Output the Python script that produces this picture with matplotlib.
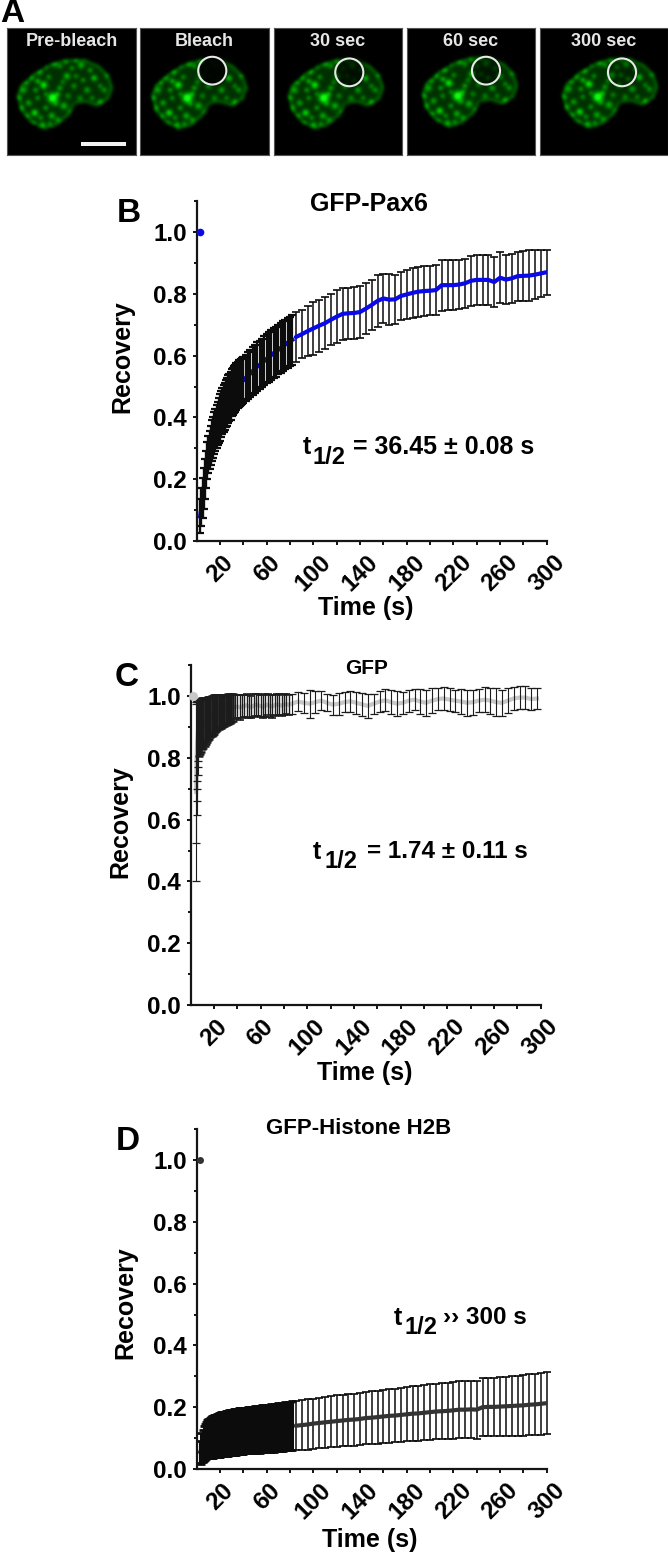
import numpy as np
import matplotlib
matplotlib.use("Agg")
import matplotlib.pyplot as plt
from matplotlib.path import Path
from matplotlib.patches import Circle, Rectangle
from matplotlib.transforms import ScaledTranslation

plt.rcParams['font.family'] = ['Liberation Sans', 'DejaVu Sans']
plt.rcParams['font.weight'] = 'bold'

W, H = 668, 1553

# ---- panel A micrographs ----
frame_labels = ["Pre-bleach", "Bleach", "30 sec", "60 sec", "300 sec"]
frame_left = [7.3, 140, 273.5, 406.7, 539.5]
frame_shift = [(0, 0), (1.5, 0), (4, 0), (5, -2), (12, -1)]
circle_x = [None, 212, 349, 485.7, 621.7]
circle_y = [None, 71, 72.7, 71, 72.7]
circle_dim = [1, 0.08, 0.3, 0.45, 0.72]
nucleus_outline = [(8.7, 68), (12.7, 56.7), (26, 45), (42.7, 35), (59.3, 30), (76, 30), (91, 36.7),
                   (101, 46.7), (105.3, 60), (101, 71.7), (89.3, 79), (76, 75), (67.7, 76.7),
                   (61, 88.3), (49.3, 98.3), (36, 102.3), (22.7, 95), (12.7, 83.3)]
# x, y, brightness, width of the bright foci
nucleus_foci = [(45, 70, 1.0, 3.2), (36, 57, .75, 2.4), (30, 53, .5, 1.8), (27, 85, .7, 2.2), (59, 48, .55, 2.2),
                (86, 50, .6, 2), (73, 37, .5, 2.2), (16, 62, .45, 2.2), (44, 88, .5, 2.2), (79, 62, .45, 2),
                (56, 78, .5, 2.4), (21, 75, .45, 2), (32, 44, .45, 1.8), (52, 60, .45, 1.8), (66, 58, .4, 1.8),
                (96, 62, .4, 1.8), (47, 36, .4, 1.8), (60, 68, .35, 1.8), (14, 80, .4, 1.8), (35, 97, .5, 1.8),
                (72, 70, .35, 1.8), (92, 74, .45, 1.8), (50, 92, .4, 1.8), (28, 62, .45, 1.6), (41, 49, .4, 1.6),
                (30, 70, .4, 1.6), (52, 38, .4, 1.6), (64, 40, .4, 1.6), (82, 42, .45, 1.6), (38, 80, .45, 1.6),
                (24, 50, .4, 1.6), (68, 48, .35, 1.6), (55, 54, .35, 1.6), (20, 88, .35, 1.6), (12, 70, .4, 1.6),
                (19, 55, .35, 1.6), (38, 66, .35, 1.4), (50, 66, .45, 1.6), (48, 76, .4, 1.6), (62, 84, .3, 1.4),
                (33, 90, .4, 1.6), (42, 96, .35, 1.6), (26, 95, .3, 1.4), (75, 52, .4, 1.6), (92, 58, .35, 1.6),
                (84, 70, .35, 1.6), (98, 48, .3, 1.4), (68, 32, .35, 1.4), (58, 34, .35, 1.4), (38, 38, .3, 1.4)]


def smooth(a, times):
    kernel = np.array([1, 2, 3, 2, 1]) / 9
    for _ in range(times):
        a = np.apply_along_axis(np.convolve, 0, a, kernel, 'same')
        a = np.apply_along_axis(np.convolve, 1, a, kernel, 'same')
    return a


def nucleus_image(dx, dy, cx, cy, dim):
    n = 128
    yy, xx = np.mgrid[0:n, 0:n]
    u, v = xx - dx, yy - dy
    pts = np.column_stack([u.ravel(), v.ravel()])
    mask = Path(nucleus_outline).contains_points(pts).reshape(n, n).astype(float)
    soft = smooth(mask, 1)
    inner = smooth(mask, 4)
    rim = np.clip(soft - inner, 0, 1) * 1.9
    g = soft * 0.17 + rim * 0.55
    for fx, fy, a, s in nucleus_foci:
        g = g + a * soft * np.exp(-((u - fx) ** 2 + (v - fy) ** 2) / (2 * s ** 2))
    if cx is not None:
        inside = (xx - cx) ** 2 + (yy - cy) ** 2 < 14 ** 2
        g = np.where(inside, g * dim, g)
    g = smooth(g, 1)
    img = np.zeros((n, n, 3))
    img[..., 1] = np.clip(g * 1.15, 0, 1) * 0.95
    img[..., 0] = np.clip(g - 0.75, 0, 1) * 0.4
    img[..., 2] = np.clip(g - 0.75, 0, 1) * 0.4
    return img


# ---- time grids (s) ----
t_early = list(range(3, 41))
t_mid = list(range(42, 84, 2))
t_late = list(range(85, 301, 5))
t_c_first = [4.8, 5.0, 5.2, 5.4, 5.6, 5.8, 6.0, 6.2, 6.4]
t_c_early = list(range(7, 37))
t_c_mid = list(range(38, 85, 2))
t_c_late = list(range(87, 298, 5))

# ---- panel B, GFP-Pax6 ----
pax_pre = 1.0
pax_early = [.08, .11, .14, .17, .20, .23, .26, .28, .295, .31,
             .325, .335, .35, .36, .37, .38, .39, .40, .41, .42,
             .43, .435, .445, .45, .46, .465, .47, .48, .485, .49,
             .495, .50, .505, .51, .512, .515, .518, .52]
pax_early_err = [.055, .06, .065, .065, .065, .06, .06, .06, .062, .063,
                 .065, .066, .068, .068, .07, .07, .072, .075, .075, .075,
                 .076, .076, .076, .077, .077, .077, .077, .077, .076, .076,
                 .076, .076, .075, .075, .075, .075, .075, .075]
pax_mid = [.528, .535, .542, .55, .557, .565, .57, .577, .583, .59,
           .596, .602, .608, .613, .619, .625, .63, .636, .642, .646, .651]
pax_mid_err = [.075, .076, .076, .077, .077, .078, .078, .078, .079, .079,
               .08, .08, .08, .081, .08, .081, .081, .08, .081, .08, .08]
pax_late = [.660, .669, .679, .688, .697, .705, .716, .726, .735, .737,
            .738, .741, .752, .764, .777, .785, .781, .782, .793, .798,
            .803, .807, .809, .810, .812, .828, .828, .828, .830, .834,
            .842, .845, .845, .845, .838, .852, .846, .850, .857, .858,
            .859, .862, .866, .870]
pax_late_err = [.08, .078, .08, .086, .084, .085, .083, .085, .084, .082,
                .083, .085, .083, .082, .083, .08, .082, .08, .079, .08,
                .08, .081, .08, .08, .082, .083, .081, .081, .08, .079,
                .08, .08, .081, .082, .08, .082, .078, .08, .079, .08,
                .082, .08, .075, .073]

# ---- panel C, GFP ----
gfp_first = [.69, .75, .80, .825, .84, .855, .865, .875, .885]
gfp_first_err = [.29, .225, .185, .165, .14, .13, .12, .105, .095]
gfp_early = [.895, .90, .905, .91, .913, .916, .92, .923, .926, .93,
             .932, .934, .937, .94, .942, .944, .946, .947, .949, .95,
             .951, .952, .953, .955, .956, .958, .958, .959, .96, .962]
gfp_early_err = [.09, .088, .085, .083, .08, .078, .075, .072, .07, .068,
                 .066, .065, .063, .062, .06, .058, .056, .055, .054, .052,
                 .051, .05, .05, .049, .048, .047, .046, .046, .045, .044]
gfp_mid = [.964, .966, .963, .965, .968, .97, .966, .964, .968, .972,
           .97, .967, .965, .969, .972, .968, .966, .97, .973, .971,
           .969, .972, .974, .972]
gfp_mid_err = [.04, .038, .04, .037, .036, .038, .036, .035, .037, .036,
               .035, .036, .037, .036, .034, .035, .036, .034, .035, .034,
               .033, .034, .033, .032]
gfp_late = [.975, .982, .978, .975, .98, .985, .978, .972, .975, .98,
            .983, .978, .973, .968, .975, .982, .986, .98, .975, .978,
            .985, .988, .982, .978, .985, .99, .992, .988, .985, .982,
            .978, .98, .985, .988, .985, .98, .978, .985, .992, .995,
            .995, .99, .992]
gfp_late_err = [.033, .03, .032, .045, .035, .03, .028, .032, .036, .033,
                .034, .036, .038, .04, .032, .034, .036, .038, .04, .036,
                .036, .034, .04, .042, .04, .036, .036, .038, .036, .04,
                .042, .04, .038, .04, .042, .045, .042, .04, .036, .036,
                .036, .036, .034]

# ---- panel D, GFP-Histone H2B ----
h2b_pre = 1.0
h2b_early = [.055, .065, .075, .082, .088, .092, .096, .10, .102, .103,
             .104, .105, .106, .107, .108, .109, .11, .111, .112, .113,
             .113, .114, .115, .115, .116, .117, .117, .118, .119, .119,
             .12, .12, .121, .122, .122, .123, .123, .124]
h2b_early_err = [.035, .05, .052, .056, .058, .06, .062, .062, .064, .066,
                 .067, .068, .068, .069, .07, .07, .07, .071, .071, .071,
                 .072, .072, .072, .073, .073, .073, .073, .073, .073, .074,
                 .074, .074, .074, .074, .074, .074, .074, .074]
h2b_mid = [.125, .126, .127, .127, .128, .129, .129, .13, .13, .131,
           .132, .132, .133, .134, .135, .136, .137, .138, .139, .14, .14]
h2b_mid_err = [.074, .075, .075, .075, .075, .076, .076, .076, .076, .076,
               .076, .077, .077, .077, .077, .077, .078, .078, .078, .078, .079]
h2b_late = [.140, .142, .144, .147, .149, .151, .153, .155, .157, .159,
            .160, .162, .165, .166, .168, .170, .172, .173, .175, .177,
            .179, .180, .182, .184, .186, .187, .188, .190, .192, .192,
            .193, .192, .200, .201, .201, .202, .203, .204, .205, .206,
            .208, .209, .211, .213]
h2b_late_err = [.080, .080, .081, .081, .082, .082, .082, .083, .083, .084,
                .084, .084, .085, .085, .086, .086, .087, .087, .088, .088,
                .088, .089, .089, .090, .090, .091, .091, .092, .092, .093,
                .093, .094, .094, .095, .095, .096, .096, .097, .097, .098,
                .098, .099, .100, .100]

x_ticks = list(range(20, 301, 20))
x_labels = ["20", "", "60", "", "100", "", "140", "", "180", "", "220", "", "260", "", "300"]
y_ticks = [0, .2, .4, .6, .8, 1.0]
y_labels = ["0.0", "0.2", "0.4", "0.6", "0.8", "1.0"]

fig = plt.figure(figsize=(W / 100, H / 100), dpi=100, facecolor='white')


def put(x, y, s, size, **kw):
    # text placed in picture pixels
    kw.setdefault('ha', 'center')
    kw.setdefault('va', 'center')
    fig.text(x / W, 1 - y / H, s, fontsize=size, fontweight='bold', **kw)


# micrograph strip
for i, left in enumerate(frame_left):
    ax = fig.add_axes([left / W, 1 - 155 / H, 128.5 / W, 127 / H])
    dx, dy = frame_shift[i]
    cx = None if circle_x[i] is None else circle_x[i] - left
    cy = None if circle_y[i] is None else circle_y[i] - 28
    ax.imshow(nucleus_image(dx, dy, cx, cy, circle_dim[i]), extent=(0, 128, 128, 0), aspect='auto',
              interpolation='bilinear')
    ax.set_xticks([])
    ax.set_yticks([])
    for s in ax.spines.values():
        s.set_color('#555555')
        s.set_linewidth(0.8)
    ax.text(64, 14, frame_labels[i], color='#e6e6e6', fontsize=13, ha='center', va='center', fontweight='bold')
    if cx is not None:
        ax.add_patch(Circle((cx, cy), 14, fill=False, ec='#e8e8e8', lw=1.5))
    if i == 0:
        ax.add_patch(Rectangle((73.5, 115), 45, 3.5, fc='#f2f2f2', ec='none'))


def recovery_panel(left, y0, segs, line_color, bar_color, pre=None, pre_t=None, pre_ms=4.5):
    # y0 is the pixel row of recovery 0, 350 px for 300 s
    ax = fig.add_axes([left / W, 1 - y0 / H, 350 / W, 340 / H])
    ax.set_xlim(0, 300)
    ax.set_ylim(0, 340 / 309)
    for t, m, e, lw, cap, on_top in segs:
        if not on_top:
            ax.plot(t, m, color=line_color, lw=3, zorder=1)
        ax.errorbar(t, m, yerr=e, fmt='none', ecolor=bar_color, elinewidth=lw, capsize=2.6,
                    capthick=cap, zorder=2, clip_on=False)
        if on_top:
            ax.plot(t, m, color=line_color, lw=3, zorder=3, solid_capstyle='round')
    if pre is not None:
        ax.plot([pre_t], [pre], 'o', color=line_color, ms=pre_ms, zorder=3, clip_on=False)
    ax.set_xticks(x_ticks)
    ax.set_xticklabels(x_labels, rotation=45, fontsize=17.5, fontweight='bold', ha='center')
    shift = ScaledTranslation(-4 / 100, 0, fig.dpi_scale_trans)
    for lab in ax.get_xticklabels():
        lab.set_transform(lab.get_transform() + shift)
    ax.set_yticks(y_ticks)
    ax.set_yticklabels(y_labels, fontsize=17.5, fontweight='bold')
    ax.set_yticks([.1, .3, .5, .7, .9, 1.1], minor=True)
    ax.tick_params(axis='both', which='major', length=3, width=1.3, pad=4)
    ax.tick_params(axis='y', which='minor', length=2, width=1.3)
    for s in ['top', 'right']:
        ax.spines[s].set_visible(False)
    for s in ['left', 'bottom']:
        ax.spines[s].set_linewidth(1.6)
        ax.spines[s].set_color('#151515')
    ax.patch.set_alpha(0)
    return ax


recovery_panel(196.7, 541,
               [(t_early, pax_early, pax_early_err, 1.7, 1.6, False),
                (t_mid, pax_mid, pax_mid_err, 1.6, 1.6, False),
                (t_late, pax_late, pax_late_err, 1.1, 1.2, True)],
               '#0a0ae6', '#0c0c0c', pax_pre, 3)
recovery_panel(190.5, 1005,
               [(t_c_first, gfp_first, gfp_first_err, 0.8, 0.9, False),
                (t_c_early, gfp_early, gfp_early_err, 1.8, 1.8, False),
                (t_c_mid, gfp_mid, gfp_mid_err, 1.0, 1.2, False),
                (t_c_late, gfp_late, gfp_late_err, 0.8, 0.9, False)],
               '#c8c8c8', '#1c1c1c', 1.0, 2, 5.5)
recovery_panel(196.7, 1469,
               [(t_early, h2b_early, h2b_early_err, 2.2, 2, False),
                (t_mid, h2b_mid, h2b_mid_err, 2.2, 2, False),
                (t_late, h2b_late, h2b_late_err, 1.1, 1.2, True)],
               '#333333', '#0c0c0c', h2b_pre, 3, 4)

# panel letters
put(0, 13, "A", 24, ha='left')
put(117, 214, "B", 24, ha='left')
put(115, 677, "C", 24, ha='left')
put(116, 1141, "D", 24, ha='left')

# titles and axis labels
put(369, 204, "GFP-Pax6", 18)
put(367, 668, "GFP", 15)
put(359, 1128, "GFP-Histone H2B", 16)
put(122, 357, "Recovery", 18, rotation=90)
put(120, 822, "Recovery", 18, rotation=90)
put(125, 1303, "Recovery", 18, rotation=90)
put(366, 608, "Time (s)", 18)
put(365, 1073, "Time (s)", 18)
put(370, 1540, "Time (s)", 18)

# half-times
put(303, 447, "t", 18, ha='left')
put(312, 457, "1/2", 17, ha='left')
put(353, 447, "= 36.45 ± 0.08 s", 18, ha='left')
put(313, 852, "t", 18, ha='left')
put(324, 862, "1/2", 17, ha='left')
put(367, 852, "= 1.74 ± 0.11 s", 17.5, ha='left')
put(394, 1318, "t", 18, ha='left')
put(405, 1328, "1/2", 17, ha='left')
put(443, 1318, "›› 300 s", 17.5, ha='left')

fig.savefig("out.png", dpi=100)
